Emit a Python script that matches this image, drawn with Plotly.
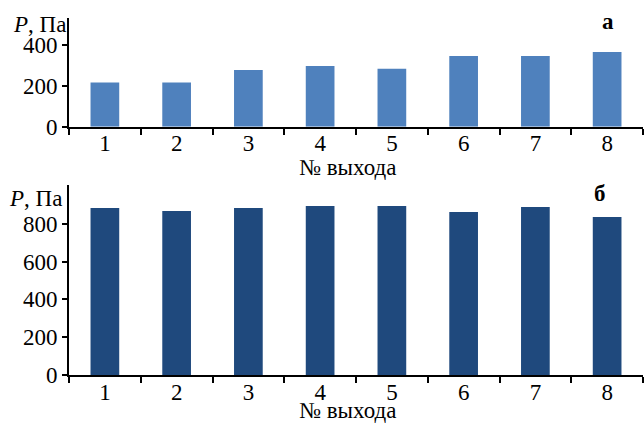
import plotly.graph_objects as go
from plotly.subplots import make_subplots

# Pressure at each outlet, two regimes
outlets = ["1", "2", "3", "4", "5", "6", "7", "8"]
pressure_a = [215, 215, 277, 296, 282, 345, 345, 364]
pressure_b = [884, 868, 884, 894, 894, 862, 889, 836]
y_ticks_a = [0, 200, 400]
y_ticks_b = [0, 200, 400, 600, 800]

W, H = 644, 423
FONT = "'Liberation Serif', 'Times New Roman', Times, serif"
TICK_SIZE = 23
LABEL_SIZE = 23

fig = make_subplots(rows=2, cols=1)
fig.add_trace(go.Bar(x=outlets, y=pressure_a, width=0.4,
                     marker=dict(color="#4F81BD", line=dict(width=0))),
              row=1, col=1)
fig.add_trace(go.Bar(x=outlets, y=pressure_b, width=0.4,
                     marker=dict(color="#1F497D", line=dict(width=0))),
              row=2, col=1)

def py(px):
    return 1 - px / H

xaxis_common = dict(type="category", tickson="boundaries", ticks="outside",
                    ticklen=6, tickwidth=1.5, tickcolor="black",
                    ticklabelstandoff=-5,
                    showline=True, linecolor="black", linewidth=1.8,
                    showgrid=False, zeroline=False, automargin=False,
                    tickfont=dict(family=FONT, size=TICK_SIZE, color="black"),
                    domain=[69 / W, 643 / W])
yaxis_common = dict(ticks="outside", ticklen=5, tickwidth=1.5, tickcolor="black",
                    showline=True, linecolor="black", linewidth=1.8,
                    showgrid=False, zeroline=False, automargin=False,
                    tickfont=dict(family=FONT, size=TICK_SIZE, color="black"))

fig.update_layout(
    width=W, height=H, autosize=False,
    margin=dict(l=0, r=0, t=0, b=0, pad=0),
    paper_bgcolor="white", plot_bgcolor="white",
    showlegend=False,
    font=dict(family=FONT, size=TICK_SIZE, color="black"),
    xaxis=dict(**xaxis_common),
    xaxis2=dict(**xaxis_common),
    yaxis=dict(**yaxis_common, range=[0, 530], tickvals=y_ticks_a,
               domain=[py(126.7), py(18)]),
    yaxis2=dict(**yaxis_common, range=[0, 1005], tickvals=y_ticks_b,
                domain=[py(375), py(185)]),
)

ann_font = dict(family=FONT, size=LABEL_SIZE, color="black")
annotations = [
    dict(text="<i>P</i>, Па", x=68 / W, y=py(25), xanchor="right", yanchor="middle"),
    dict(text="<i>P</i>, Па", x=64 / W, y=py(198), xanchor="right", yanchor="middle"),
    dict(text="№ выхода", x=347 / W, y=py(167), xanchor="center", yanchor="middle"),
    dict(text="№ выхода", x=347 / W, y=py(410), xanchor="center", yanchor="middle"),
    dict(text="<b>а</b>", x=608 / W, y=py(22), xanchor="center", yanchor="middle"),
    dict(text="<b>б</b>", x=600 / W, y=py(193), xanchor="center", yanchor="middle"),
]
for a in annotations:
    fig.add_annotation(xref="paper", yref="paper", showarrow=False,
                       font=ann_font, **a)

fig.write_html("out.html", default_width=f"{W}px", default_height=f"{H}px",
               config={"responsive": False})
